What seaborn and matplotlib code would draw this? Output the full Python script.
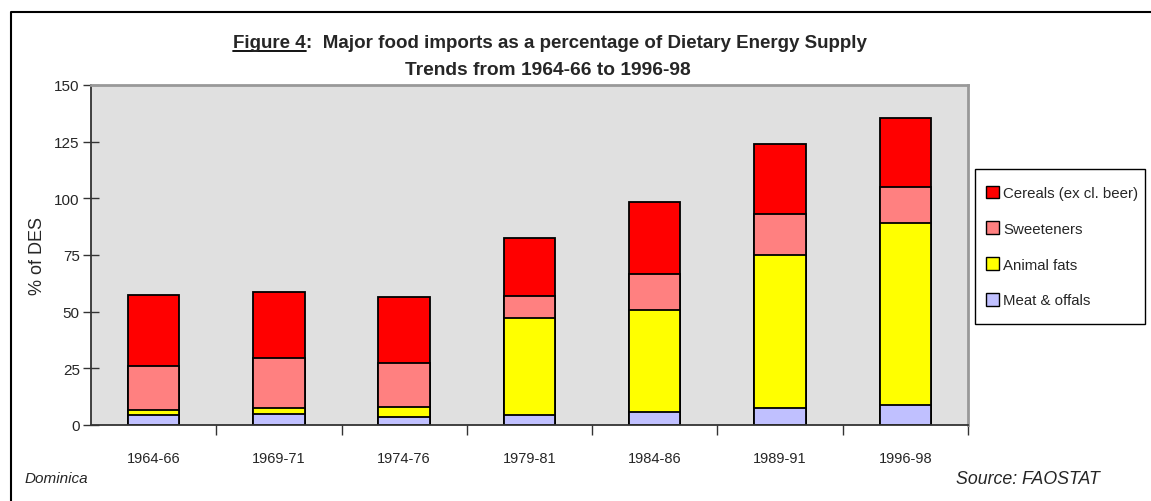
import pandas as pd
import matplotlib.pyplot as plt
import seaborn as sns
from matplotlib.patches import Patch, Rectangle
from matplotlib.lines import Line2D

# data (% of DES)
periods = ["1964-66", "1969-71", "1974-76", "1979-81", "1984-86", "1989-91", "1996-98"]
meat = [4.2, 4.8, 3.4, 4.4, 5.9, 7.4, 9.0]
animal_fats = [2.4, 2.6, 4.7, 42.8, 44.8, 67.6, 80.1]
sweeteners = [19.4, 22.2, 19.2, 9.7, 15.9, 18.1, 15.9]
cereals = [31.5, 29.1, 29.2, 25.6, 31.8, 30.9, 30.4]

series = ["Cereals (ex cl. beer)", "Sweeteners", "Animal fats", "Meat & offals"]
colors = ["#ff0000", "#ff8080", "#ffff00", "#c0c0ff"]

# cumulative heights so the layers can be drawn back to front
df = pd.DataFrame({"period": periods, "meat": meat, "fats": animal_fats,
                   "sweet": sweeteners, "cereals": cereals})
df["c_meat"] = df["meat"]
df["c_fats"] = df["c_meat"] + df["fats"]
df["c_sweet"] = df["c_fats"] + df["sweet"]
df["c_cereals"] = df["c_sweet"] + df["cereals"]

sns.set_style("white")
plt.rcParams["font.family"] = ["Liberation Sans", "DejaVu Sans"]

fig = plt.figure(figsize=(11.51, 5.02), dpi=100)
ax = fig.add_axes([0.079, 0.1514, 0.762, 0.6773])
ax.set_facecolor("#e0e0e0")

for col, c in zip(["c_cereals", "c_sweet", "c_fats", "c_meat"], colors):
    sns.barplot(data=df, x="period", y=col, order=periods, color=c, width=0.41,
                edgecolor="black", linewidth=1.3, saturation=1, ax=ax)

ax.set_xlim(-0.5, 6.5)
ax.set_ylim(0, 150)
ax.set_yticks([0, 25, 50, 75, 100, 125, 150])
ax.set_xlabel("")
ax.set_ylabel("% of DES", fontsize=13, labelpad=6)

# x ticks sit between categories, labels under the bars
ax.set_xticks([i + 0.5 for i in range(6)] + [6.5])
ax.set_xticklabels([])
ax.set_xticks(range(7), minor=True)
ax.set_xticklabels(periods, minor=True, fontsize=10.5)
ax.tick_params(axis="x", which="major", bottom=True, direction="out", length=7, width=1, color="#333333")
ax.tick_params(axis="x", which="minor", bottom=True, length=0, pad=19)
ax.tick_params(axis="y", left=True, direction="inout", length=12, width=1, labelsize=11, pad=2, color="#333333")

for s in ["top", "right"]:
    ax.spines[s].set_color("#999999")
    ax.spines[s].set_linewidth(2)
for s in ["left", "bottom"]:
    ax.spines[s].set_color("#333333")
    ax.spines[s].set_linewidth(1.3)

# title, with "Figure 4" underlined
t1 = fig.text(0.2025, 0.905, "Figure 4", fontsize=13.5, fontweight="bold", ha="left", va="baseline")
fig.canvas.draw()
bb = t1.get_window_extent().transformed(fig.transFigure.inverted())
fig.text(bb.x1, 0.905, ":  Major food imports as a percentage of Dietary Energy Supply",
         fontsize=13.5, fontweight="bold", ha="left", va="baseline")
fig.add_artist(Line2D([bb.x0, bb.x1], [0.896, 0.896], color="black", lw=1.3,
                      transform=fig.transFigure))
fig.text(0.476, 0.851, "Trends from 1964-66 to 1996-98", fontsize=13.8, fontweight="bold",
         ha="center", va="baseline")

# legend box drawn separately so its size can be matched
fig.add_artist(Rectangle((975 / 1151, 1 - 325 / 502), 170 / 1151, 155 / 502,
                         transform=fig.transFigure, facecolor="white",
                         edgecolor="black", linewidth=1))
handles = [Patch(facecolor=c, edgecolor="black", linewidth=1) for c in colors]
leg = fig.legend(handles, series, loc="center", bbox_to_anchor=(0.9225, 0.507),
                 frameon=False, fontsize=10.8, handlelength=0.9,
                 handleheight=0.9, handletextpad=0.25, labelspacing=1.43,
                 borderpad=0.2, borderaxespad=0)

fig.text(0.021, 0.038, "Dominica", fontsize=11, style="italic")
fig.text(0.831, 0.035, "Source: FAOSTAT", fontsize=12.8, style="italic")

# outer frame (top and left edges)
fig.add_artist(Line2D([0.0096, 0.0096, 1.0], [0.0, 0.974, 0.974], color="black", lw=1.5,
                      transform=fig.transFigure))

plt.savefig("out.png", dpi=100)
